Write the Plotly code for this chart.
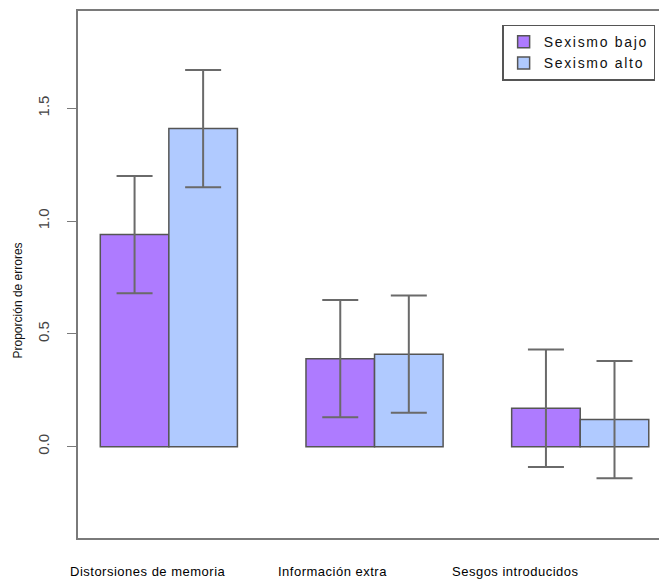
import plotly.graph_objects as go

# Category names and group means with their error half-widths
categorias = ["Distorsiones de memoria", "Información extra", "Sesgos introducidos"]
sexismo_bajo = [0.94, 0.39, 0.17]
sexismo_alto = [1.41, 0.41, 0.12]
error_bajo = [0.26, 0.26, 0.26]
error_alto = [0.26, 0.26, 0.26]
series_nombres = ["Sexismo bajo", "Sexismo alto"]
y_ticks = [0.0, 0.5, 1.0, 1.5]
y_tick_labels = ["0.0", "0.5", "1.0", "1.5"]

color_bajo = "#AE7BFF"
color_alto = "#B0CAFF"
borde = "#555555"
err_color = "#6a6a6a"


def espaciado(txt, ls):
    return f'<span style="letter-spacing:{ls}px">{txt}</span>'


fig = go.Figure()
for nombre, vals, errs, col in [
    (series_nombres[0], sexismo_bajo, error_bajo, color_bajo),
    (series_nombres[1], sexismo_alto, error_alto, color_alto),
]:
    fig.add_trace(go.Bar(
        name=espaciado(nombre, 1.7), x=categorias, y=vals,
        marker=dict(color=col, line=dict(color=borde, width=1.5)),
        error_y=dict(type="data", array=errs, visible=True,
                     color=err_color, thickness=2, width=18),
    ))

# category labels under each group
shifts = [-21, -42, -65]
for cat, dx in zip(categorias, shifts):
    fig.add_annotation(
        x=cat, xref="x", y=-0.064, yref="paper", xshift=dx,
        text=espaciado(cat, 0.5), showarrow=False, yanchor="middle", xanchor="center",
        font=dict(family="Liberation Sans, Arial", size=13, color="#000000"),
    )

# y-axis title
fig.add_annotation(
    x=-0.103, xref="paper", y=0.451, yref="paper",
    text="Proporción de errores", textangle=-90, showarrow=False,
    xanchor="center", yanchor="middle",
    font=dict(family="Liberation Sans, Arial", size=12, color="#111111"),
)

fig.update_layout(
    width=659, height=583,
    margin=dict(l=78, r=0, t=11, b=45),
    paper_bgcolor="white", plot_bgcolor="white",
    barmode="group", bargap=1/3, bargroupgap=0,
    font=dict(family="Liberation Sans, Arial", size=13, color="#333333"),
    legend=dict(
        x=0.73, y=0.974, xanchor="left", yanchor="top",
        bordercolor="#555555", borderwidth=1.5, bgcolor="white",
        font=dict(family="Liberation Sans, Arial", size=14, color="#111111"),
        tracegroupgap=0,
    ),
    xaxis=dict(
        range=[-0.4417, 2.383], showticklabels=False, ticks="",
        showline=True, mirror=True, linecolor="#7a7a7a", linewidth=2,
        showgrid=False, zeroline=False,
    ),
    yaxis=dict(
        range=[-0.405, 1.931], tickvals=y_ticks, ticktext=y_tick_labels,
        tickangle=-90, ticks="outside", ticklen=9, tickcolor="#7a7a7a",
        tickwidth=1, showline=True, linecolor="#7a7a7a", linewidth=2,
        showgrid=False, zeroline=False, ticklabelstandoff=12,
        tickfont=dict(family="Liberation Sans, Arial", size=15, color="#444444"),
    ),
)

fig.write_html("out.html")
